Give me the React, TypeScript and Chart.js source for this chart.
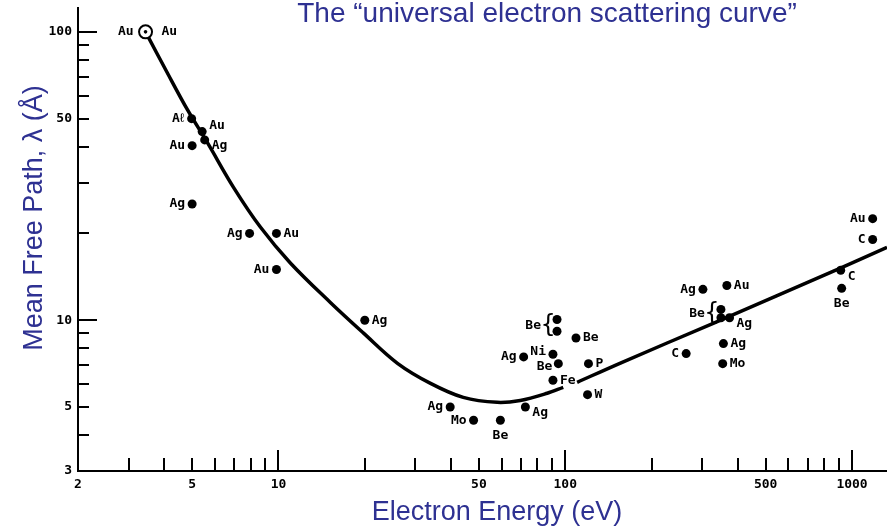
import React, { useEffect, useRef } from 'react';
import { Chart, registerables } from 'chart.js';

Chart.register(...registerables);

// ---- Data ----
const curveEnergy = [3.44, 4.1, 4.82, 5.66, 6.97, 8.66, 11.0, 15.2, 19.8, 26.0, 33.9, 44.1, 57.9, 69.7, 86.5, 98.4, 104, 110, 155, 328, 915, 1324];
const curvePath = [100, 72.0, 53.6, 41.2, 28.9, 21.0, 15.8, 11.5, 9.02, 7.09, 6.04, 5.40, 5.19, 5.27, 5.58, 5.85, null, 6.09, 7.09, 9.76, 15.2, 17.9];

const pointElement = ['Aℓ', 'Au', 'Ag', 'Au', 'Ag', 'Ag', 'Au', 'Au', 'Ag', 'Ag', 'Mo', 'Be', 'Ag', 'Ag', 'Be', 'Be', 'Be', 'Ni', 'Be', 'P', 'Fe', 'W', 'Ag', 'Au', 'Be', 'Be', 'Ag', 'Ag', 'Mo', 'C', 'C', 'Be', 'Au', 'C'];
const pointEnergy = [4.98, 5.42, 5.53, 5.0, 5.0, 7.93, 9.84, 9.84, 20.0, 39.7, 47.9, 59.4, 71.6, 72.6, 93.6, 93.6, 109, 90.6, 94.6, 120.5, 90.6, 119.6, 302, 366, 349, 349, 374, 356, 354, 264, 913, 920, 1180, 1180];
const pointPath = [50, 45.1, 42.2, 40.3, 25.3, 20.0, 20.0, 15.0, 10.0, 5.0, 4.5, 4.5, 7.46, 5.0, 10.06, 9.16, 8.68, 7.62, 7.07, 7.07, 6.19, 5.52, 12.8, 13.2, 10.9, 10.2, 10.2, 8.3, 7.07, 7.66, 14.9, 12.9, 22.5, 19.06];

const openElement = ['Au'];
const openEnergy = [3.44];
const openPath = [100];

const xTickValues = [2, 3, 4, 5, 6, 7, 8, 9, 10, 20, 30, 40, 50, 60, 70, 80, 90, 100, 200, 300, 400, 500, 600, 700, 800, 900, 1000];
const xTickLabels = [2, 5, 10, 50, 100, 500, 1000];
const yTickValues = [3, 4, 5, 6, 7, 8, 9, 10, 20, 30, 40, 50, 60, 70, 80, 90, 100];
const yTickLabels = [3, 5, 10, 50, 100];

const chartTitle = 'The “universal electron scattering curve”';
const xTitle = 'Electron Energy (eV)';
const yTitle = 'Mean Free Path, λ (Å)';

// ---- Layout of point labels (placement only) ----
const labelPlace = ['l', 'ru', 'rd', 'l', 'l', 'l', 'r', 'l', 'r', 'l', 'l', 'b', 'l', 'rd', 'brace', '-', 'r', 'lu', 'ld', 'r', 'r', 'r', 'l', 'r', 'brace', '-', 'rd', 'r', 'r', 'l', 'rd', 'b', 'l', 'l'];

const BLUE = '#2e3192';
const LABEL_FONT = 'bold 13px "DejaVu Sans Mono", monospace';
const TITLE_FONT = '27px "Liberation Sans", Arial, sans-serif';

const isDecade = (v: number) => Math.abs(Math.log10(v) - Math.round(Math.log10(v))) < 1e-9;

const decorPlugin = {
  id: 'decor',
  afterDraw(chart: any) {
    const { ctx, chartArea, scales } = chart;
    const xs = scales.x;
    const ys = scales.y;
    ctx.save();
    // inward tick marks
    ctx.strokeStyle = '#000';
    ctx.lineWidth = 2;
    for (const v of xTickValues) {
      if (v <= xs.min) continue;
      const px = Math.round(xs.getPixelForValue(v));
      const len = isDecade(v) ? 21 : 13;
      ctx.beginPath();
      ctx.moveTo(px, chartArea.bottom);
      ctx.lineTo(px, chartArea.bottom - len);
      ctx.stroke();
    }
    for (const v of yTickValues) {
      if (v <= ys.min) continue;
      const py = Math.round(ys.getPixelForValue(v));
      const len = isDecade(v) ? 19 : 11;
      ctx.beginPath();
      ctx.moveTo(chartArea.left, py);
      ctx.lineTo(chartArea.left + len, py);
      ctx.stroke();
    }

    // point labels
    ctx.fillStyle = '#000';
    ctx.font = LABEL_FONT;
    ctx.textBaseline = 'middle';
    const meta = chart.getDatasetMeta(0);
    meta.data.forEach((pt: any, i: number) => {
      const place = labelPlace[i];
      const txt = pointElement[i];
      const { x, y } = pt;
      if (place === '-') return;
      if (place === 'brace') {
        const next = meta.data[i + 1];
        const my = (y + next.y) / 2;
        ctx.save();
        ctx.font = '24px "DejaVu Sans", sans-serif';
        ctx.textAlign = 'center';
        ctx.fillText('{', x - 9, my);
        ctx.restore();
        ctx.textAlign = 'right';
        ctx.fillText(txt, x - 16, my);
        return;
      }
      let dx = 0, dy = 0;
      if (place === 'l') { ctx.textAlign = 'right'; dx = -7; }
      else if (place === 'r') { ctx.textAlign = 'left'; dx = 7; }
      else if (place === 'ru') { ctx.textAlign = 'left'; dx = 7; dy = -6; }
      else if (place === 'rd') { ctx.textAlign = 'left'; dx = 7; dy = 6; }
      else if (place === 'lu') { ctx.textAlign = 'right'; dx = -7; dy = -3; }
      else if (place === 'ld') { ctx.textAlign = 'right'; dx = -6; dy = 3; }
      else if (place === 'b') { ctx.textAlign = 'center'; dy = 15; }
      ctx.fillText(txt, x + dx, y + dy);
    });
    const om = chart.getDatasetMeta(1);
    om.data.forEach((pt: any, i: number) => {
      ctx.textAlign = 'right';
      ctx.fillText(openElement[i], pt.x - 12, pt.y);
      ctx.textAlign = 'left';
      ctx.fillText(openElement[i], pt.x + 16, pt.y);
    });

    // titles
    ctx.fillStyle = BLUE;
    ctx.textAlign = 'center';
    ctx.textBaseline = 'alphabetic';
    ctx.font = '28px "Liberation Sans", Arial, sans-serif';
    ctx.fillText(chartTitle, 547, 22);
    ctx.font = TITLE_FONT;
    ctx.fillText(xTitle, 497, 520);
    ctx.save();
    ctx.translate(42, 218);
    ctx.rotate(-Math.PI / 2);
    ctx.fillText(yTitle, 0, 0);
    ctx.restore();
    ctx.restore();
  },
};

export default function App() {
  const ref = useRef<HTMLCanvasElement>(null);
  useEffect(() => {
    if (!ref.current) return;
    const chart = new Chart(ref.current, {
      type: 'scatter',
      data: {
        datasets: [
          {
            data: pointEnergy.map((e, i) => ({ x: e, y: pointPath[i] })),
            pointRadius: 4.5,
            pointBackgroundColor: '#000',
            pointBorderWidth: 0,
            showLine: false,
          },
          {
            data: openEnergy.map((e, i) => ({ x: e, y: openPath[i] })),
            pointRadius: 6.5,
            pointBackgroundColor: '#fff',
            pointBorderColor: '#000',
            pointBorderWidth: 2,
            showLine: false,
          },
          {
            data: openEnergy.map((e, i) => ({ x: e, y: openPath[i] })),
            pointRadius: 1.8,
            pointBackgroundColor: '#000',
            pointBorderWidth: 0,
            showLine: false,
            order: -1,
          },
          {
            data: curveEnergy.map((e, i) => ({ x: e, y: curvePath[i] })),
            showLine: true,
            pointRadius: 0,
            borderColor: '#000',
            borderWidth: 3.5,
            tension: 0.35,
            spanGaps: false,
            order: 5,
          },
        ],
      } as any,
      options: {
        responsive: false,
        devicePixelRatio: 1,
        animation: false,
        layout: { autoPadding: false, padding: { top: 8, right: 0, bottom: 0, left: 0 } },
        plugins: { legend: { display: false }, tooltip: { enabled: false }, title: { display: false } },
        scales: {
          x: {
            type: 'logarithmic',
            position: 'bottom',
            min: 2,
            max: 1324,
            afterBuildTicks: (s: any) => { s.ticks = xTickValues.map((v) => ({ value: v })); },
            afterFit: (s: any) => { s.height = 58; s.paddingLeft = 0; s.paddingRight = 0; },
            grid: { display: true, drawOnChartArea: false, drawTicks: false },
            border: { display: true, color: '#000', width: 2 },
            ticks: {
              autoSkip: false,
              maxRotation: 0,
              padding: 6,
              color: '#000',
              font: { family: '"DejaVu Sans Mono", monospace', size: 13, weight: 'bold' },
              callback: (v: any) => (xTickLabels.includes(Number(v)) ? String(v) : ''),
            },
          },
          y: {
            type: 'logarithmic',
            position: 'left',
            min: 3,
            max: 121,
            afterBuildTicks: (s: any) => { s.ticks = yTickValues.map((v) => ({ value: v })); },
            afterFit: (s: any) => { s.width = 78; s.paddingTop = 0; s.paddingBottom = 0; },
            grid: { display: true, drawOnChartArea: false, drawTicks: false },
            border: { display: true, color: '#000', width: 2 },
            ticks: {
              autoSkip: false,
              padding: 6,
              color: '#000',
              font: { family: '"DejaVu Sans Mono", monospace', size: 13, weight: 'bold' },
              callback: (v: any) => (yTickLabels.includes(Number(v)) ? String(v) : ''),
            },
          },
        },
      } as any,
      plugins: [decorPlugin],
    });
    return () => chart.destroy();
  }, []);
  return (
    <div style={{ position: 'absolute', left: 0, top: 0, width: 887, height: 529, background: '#fff' }}>
      <canvas ref={ref} width={887} height={529} style={{ display: 'block' }} />
    </div>
  );
}
